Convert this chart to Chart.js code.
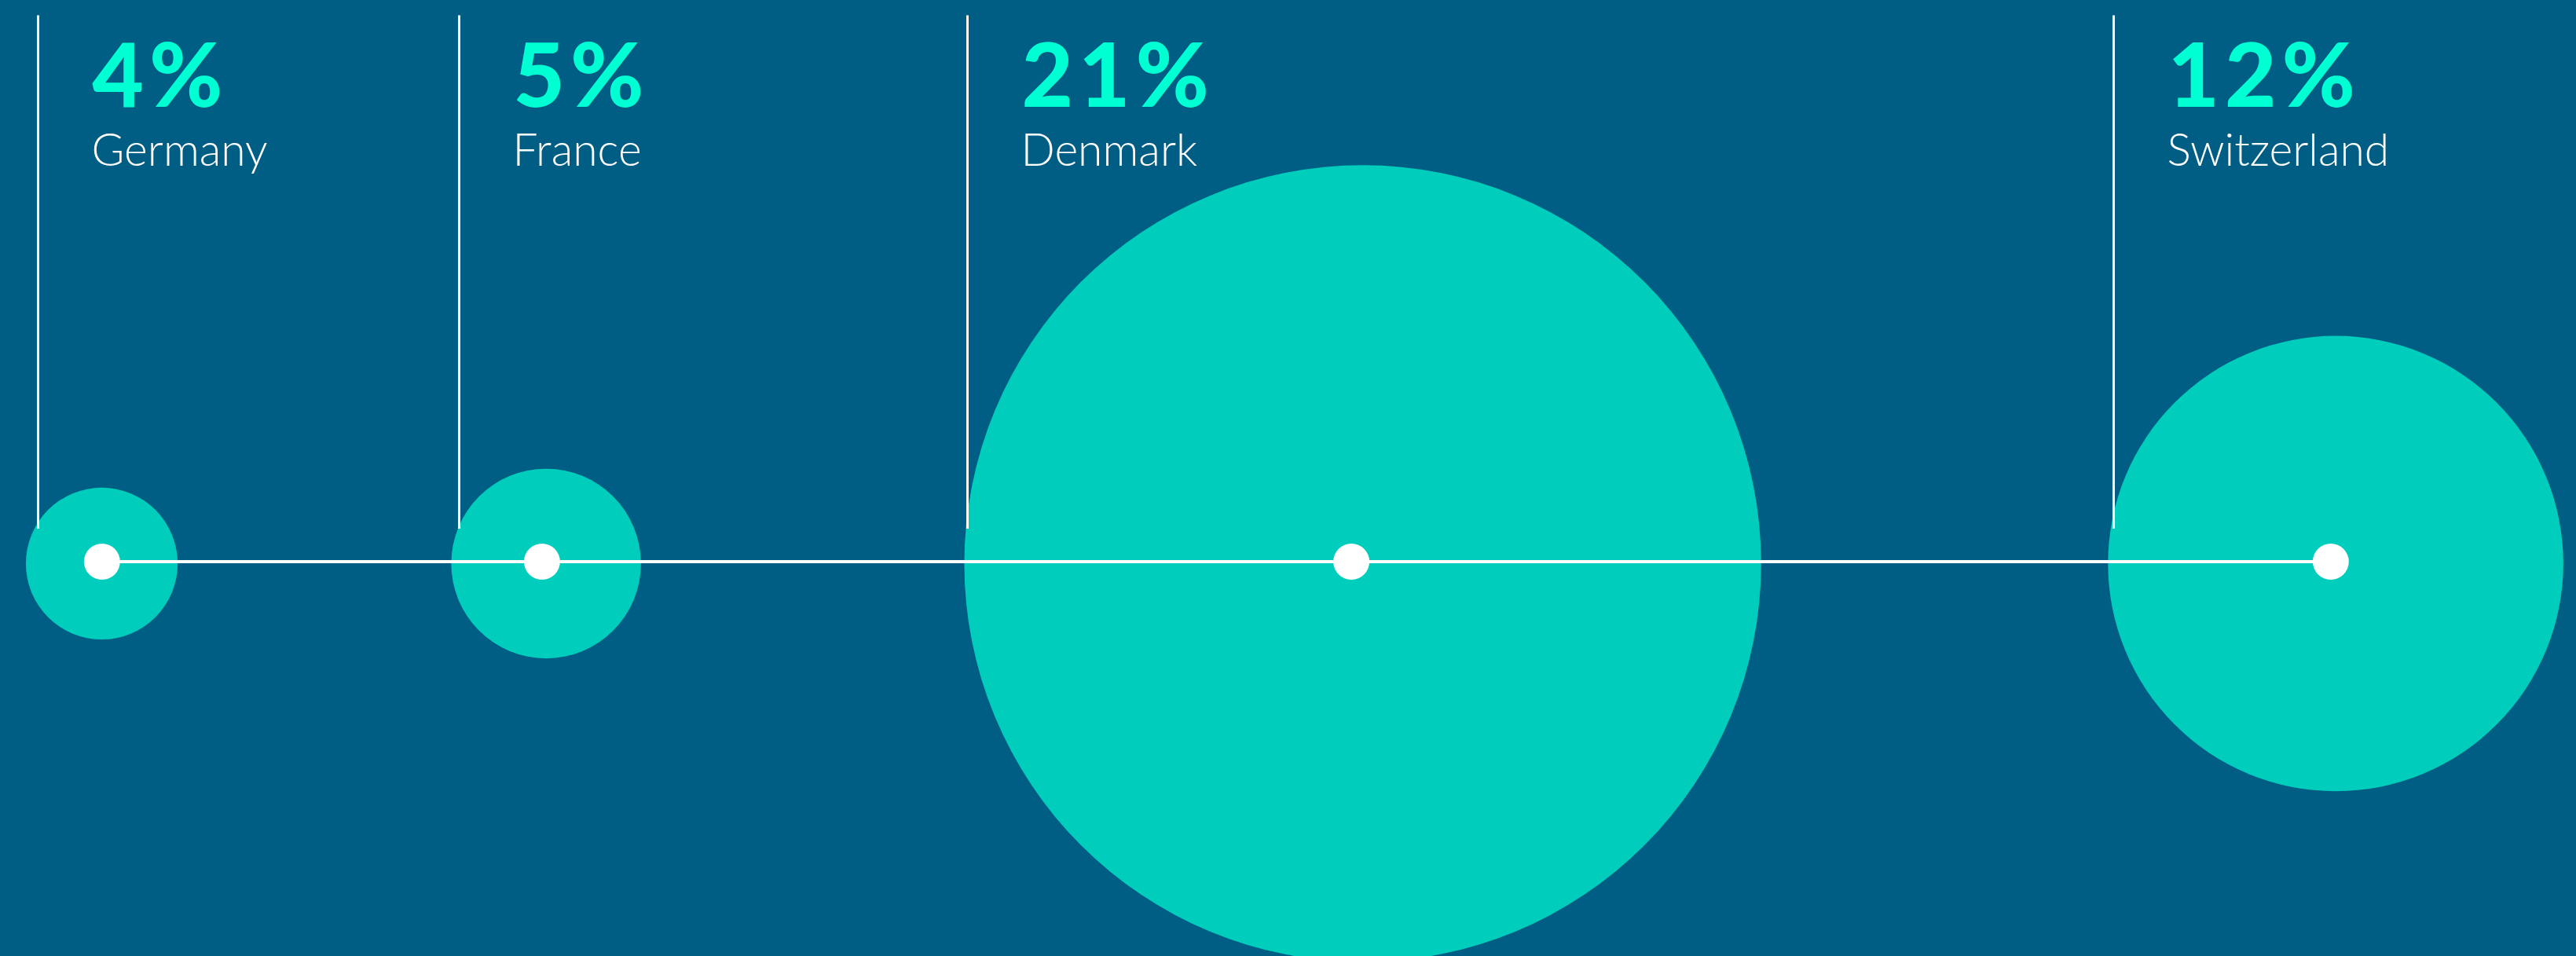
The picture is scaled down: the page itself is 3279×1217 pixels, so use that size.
<!DOCTYPE html>
<html>
<head>
<meta charset="utf-8">
<script src="https://cdn.jsdelivr.net/npm/chart.js@4.4.1/dist/chart.umd.min.js"></script>
<style>
  html, body { margin: 0; padding: 0; background: #005e84; }
  #wrap { width: 3279px; height: 1217px; }
</style>
</head>
<body>
<div id="wrap"><canvas id="shareChart" width="3279" height="1217"></canvas></div>
<script>
const countries = ['Germany', 'France', 'Denmark', 'Switzerland'];
const shares = [4, 5, 21, 12];
const shareLabels = ['4%', '5%', '21%', '12%'];

// positions along the strip, in % of the width
const dotX = [3.96, 21.04, 52.46, 90.48];
const bubbleX = [3.95, 21.2, 52.9, 90.67];
const markerX = [1.46, 17.81, 37.54, 82.04];

// heights, in % of the height from the bottom
const lineY = 41.25;
const bubbleY = 41.05;
const markerTop = 98.4;
const markerBottom = 44.7;
const numberY = 88.8;
const labelY = 82.7;

const pxPerPoint = 24.15;   // bubble radius grows linearly with the share

const bubbleColor = '#00cdbc';
const numberColor = '#00ffd2';
const bgColor = '#005e84';

let bubbleData = []
for (let i = 0; i < shares.length; i++)
    bubbleData.push({x: bubbleX[i], y: bubbleY, r: shares[i] * pxPerPoint})

let dotData = []
for (let i = 0; i < dotX.length; i++)
    dotData.push({x: dotX[i], y: lineY})

const background = {
  id: 'background',
  beforeDraw(chart) {
    const ctx = chart.ctx
    ctx.save()
    ctx.fillStyle = bgColor
    ctx.fillRect(0, 0, chart.width, chart.height)
    ctx.restore()
  }
}

const markers = {
  id: 'markers',
  afterDatasetsDraw(chart) {
    const {ctx, scales: {x, y}} = chart
    ctx.save()
    ctx.textBaseline = 'alphabetic'
    ctx.textAlign = 'left'
    for (let i = 0; i < markerX.length; i++) {
      const px = Math.round(x.getPixelForValue(markerX[i])) + 0.5
      ctx.strokeStyle = '#ffffff'
      ctx.lineWidth = 3
      ctx.beginPath()
      ctx.moveTo(px, y.getPixelForValue(markerTop))
      ctx.lineTo(px, y.getPixelForValue(markerBottom))
      ctx.stroke()

      ctx.fillStyle = numberColor
      ctx.font = '900 113px Lato'
      ctx.letterSpacing = '7px'
      ctx.fillText(shareLabels[i], px + 69, y.getPixelForValue(numberY))

      ctx.fillStyle = '#ffffff'
      ctx.font = '300 57px Lato'
      ctx.letterSpacing = '0px'
      ctx.fillText(countries[i], px + 68, y.getPixelForValue(labelY))
    }
    ctx.restore()
  }
}

const data = {
  datasets: [{
    type: 'line',
    label: 'axis',
    data: dotData,
    borderColor: '#ffffff',
    borderWidth: 4,
    pointRadius: 23,
    pointBackgroundColor: '#ffffff',
    pointBorderWidth: 0,
    clip: false,
    order: 0
  }, {
    type: 'bubble',
    label: 'share',
    data: bubbleData,
    backgroundColor: bubbleColor,
    borderWidth: 0,
    clip: false,
    order: 1
  }]
};

const config = {
  type: 'bubble',
  data: data,
  plugins: [background, markers],
  options: {
    responsive: false,
    animation: false,
    layout: { padding: 0, autoPadding: false },
    plugins: { legend: { display: false }, tooltip: { enabled: false } },
    scales: {
      x: { type: 'linear', min: 0, max: 100, display: false },
      y: { type: 'linear', min: 0, max: 100, display: false }
    }
  }
};

let ctx = document.getElementById('shareChart').getContext('2d')
new Chart(ctx, config)
</script>
</body>
</html>
